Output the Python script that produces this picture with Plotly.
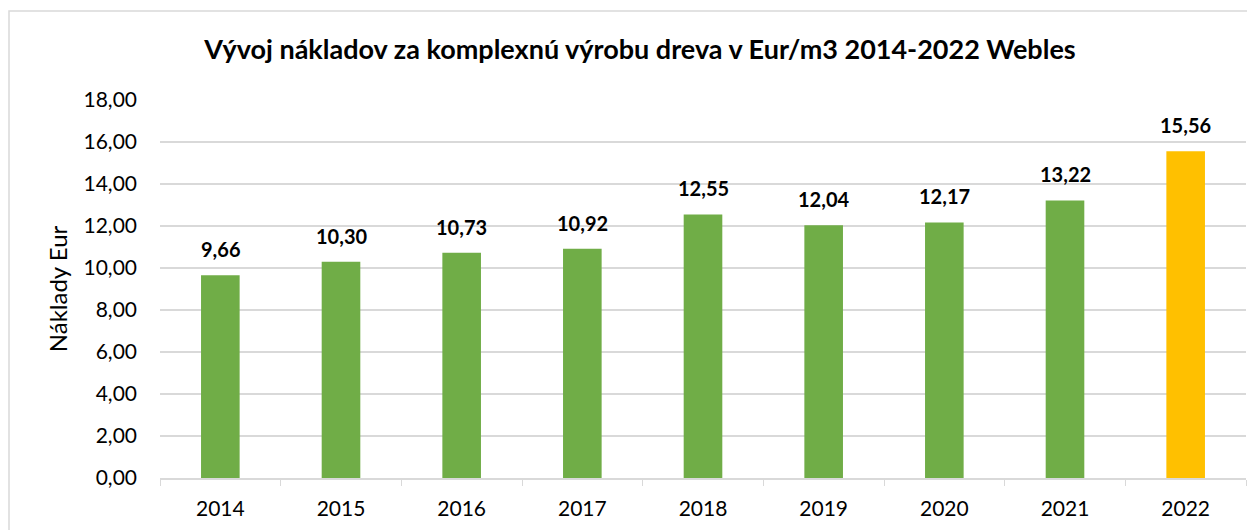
import plotly.graph_objects as go

years = ["2014", "2015", "2016", "2017", "2018", "2019", "2020", "2021", "2022"]
values = [9.66, 10.30, 10.73, 10.92, 12.55, 12.04, 12.17, 13.22, 15.56]
colors = ["#70AD47"] * 8 + ["#FFC000"]
labels = [f"{v:.2f}".replace(".", ",") for v in values]
yticks = [0, 2, 4, 6, 8, 10, 12, 14, 16, 18]
yticklabels = [f"{t:.2f}".replace(".", ",") for t in yticks]

OFF = 8  # page body margin
W, H = 1255 - OFF, 530 - OFF
L, R, T, B = 160 - OFF, 17 - OFF, 100 - OFF, 52
pw, ph = W - L - R, H - T - B

fig = go.Figure(go.Bar(x=years, y=values, marker=dict(color=colors, line=dict(width=0)),
                       hoverinfo="x+y"))

annotations = [dict(x=i, y=v, xref="x", yref="y", text=f"<b>{t}</b>", showarrow=False,
                    yanchor="bottom", yshift=12,
                    font=dict(size=20, color="#000000", family="Lato"))
               for i, (v, t) in enumerate(zip(values, labels))]

fig.update_layout(
    width=W, height=H,
    margin=dict(l=L, r=R, t=T, b=B, autoexpand=False),
    paper_bgcolor="white", plot_bgcolor="white",
    bargap=0.68,
    showlegend=False,
    font=dict(family="Lato", color="#000000"),
    title=dict(text="<b>Vývoj nákladov za komplexnú výrobu dreva v Eur/m3 2014-2022 Webles</b>",
               x=(640 - OFF) / W, xanchor="center", y=1 - (50 - OFF) / H, yanchor="middle",
               font=dict(size=27, family="Lato", color="#000000")),
    xaxis=dict(type="category", range=[-0.5, len(years) - 0.5],
               showgrid=False, showline=True, linecolor="#d9d9d9", linewidth=1.5,
               ticks="outside", tickson="boundaries", ticklen=6, tickcolor="#d9d9d9",
               tickfont=dict(size=21), ticklabelstandoff=11, automargin=False),
    yaxis=dict(range=[0, 18], tickvals=yticks, ticktext=yticklabels, automargin=False,
               showgrid=True, gridcolor="#d9d9d9", gridwidth=1.5, zeroline=False,
               showline=False, ticks="", tickfont=dict(size=21), ticklabelstandoff=22,
               title=dict(text="Náklady Eur", font=dict(size=24), standoff=9)),
    annotations=annotations,
    shapes=[dict(type="rect", xref="paper", yref="paper",
                 x0=(1 - L) / pw, x1=(W + 5 - L) / pw,
                 y0=-(B + 5) / ph, y1=(H - B - 3) / ph,
                 line=dict(color="#d9d9d9", width=1.5), fillcolor="rgba(0,0,0,0)", layer="below")],
)

fig.write_html("out.html")
